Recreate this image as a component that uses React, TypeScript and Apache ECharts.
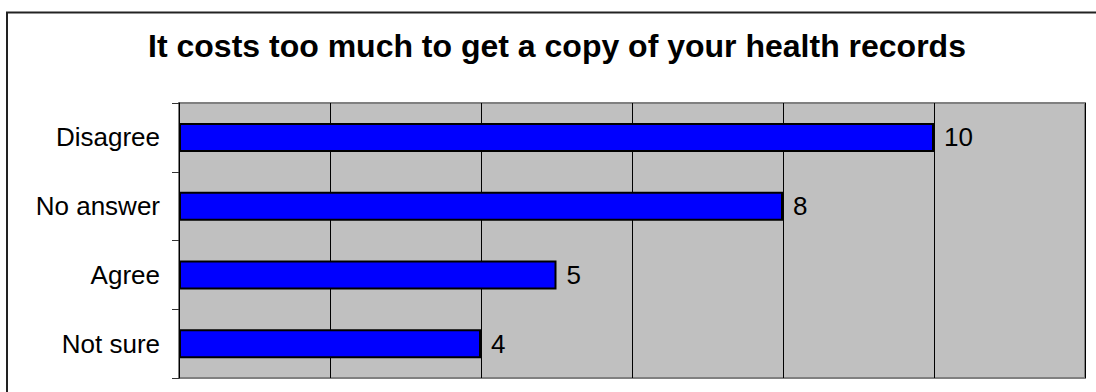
import React, { useEffect, useRef } from "react";
import * as echarts from "echarts";

const categories = ["Disagree", "No answer", "Agree", "Not sure"];
const values = [10, 8, 5, 4];
const titleText = "It costs too much to get a copy of your health records";
const xMin = 0;
const xMax = 12;
const xStep = 2;

export default function App() {
  const ref = useRef<HTMLDivElement>(null);
  useEffect(() => {
    if (!ref.current) return;
    const chart = echarts.init(ref.current, null, { renderer: "svg" });
    const font = "'Liberation Sans', Arial, sans-serif";
    chart.setOption({
      animation: false,
      backgroundColor: "#ffffff",
      graphic: [
        {
          type: "rect",
          shape: { x: 7, y: 12.5, width: 2000, height: 2000 },
          style: { fill: "none", stroke: "#222", lineWidth: 2 },
          silent: true,
        },
        {
          type: "text",
          x: 557,
          y: 46,
          style: {
            text: titleText,
            fontFamily: font,
            fontSize: 32,
            fontWeight: "bold",
            fill: "#000",
            align: "center",
            verticalAlign: "middle",
          },
        },
      ],
      grid: {
        left: 179,
        top: 103,
        right: 11,
        bottom: 14,
        show: true,
        backgroundColor: "#C0C0C0",
        borderColor: "#808080",
        borderWidth: 2,
        containLabel: false,
      },
      xAxis: {
        type: "value",
        min: xMin,
        max: xMax,
        interval: xStep,
        axisLine: { show: false },
        axisTick: { show: false },
        axisLabel: { show: false },
        splitLine: { show: true, lineStyle: { color: "#000", width: 1 } },
      },
      yAxis: {
        type: "category",
        data: categories,
        inverse: true,
        axisLine: { show: true, lineStyle: { color: "#000", width: 1 } },
        axisTick: { show: true, length: 7, lineStyle: { color: "#333", width: 1 } },
        axisLabel: {
          margin: 19,
          fontFamily: font,
          fontSize: 26,
          color: "#000",
        },
      },
      series: [
        {
          type: "bar",
          data: values,
          barWidth: 29,
          itemStyle: { color: "#0000FF", borderColor: "#000", borderWidth: 2 },
          label: {
            show: true,
            position: "right",
            distance: 10,
            fontFamily: font,
            fontSize: 26,
            color: "#000",
          },
        },
      ],
    });
    return () => chart.dispose();
  }, []);
  return (
    <div
      ref={ref}
      style={{ position: "absolute", left: 0, top: 0, width: 1096, height: 392 }}
    />
  );
}
